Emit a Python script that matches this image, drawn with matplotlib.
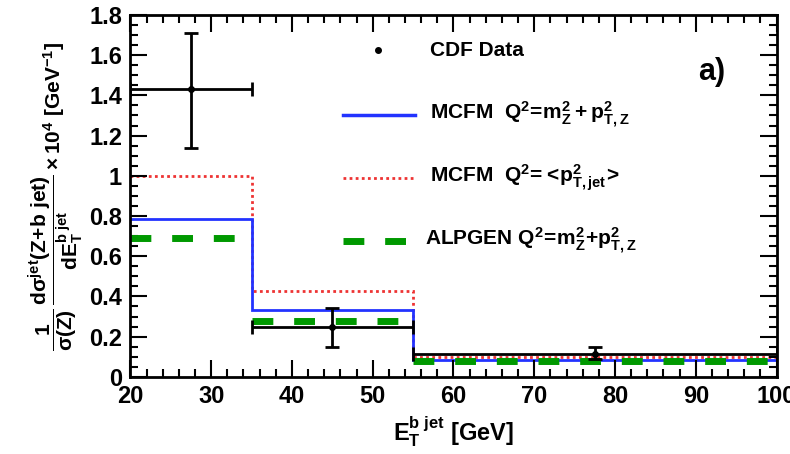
import matplotlib
matplotlib.use("Agg")
import matplotlib.pyplot as plt
import numpy as np
from matplotlib.ticker import MultipleLocator

# bin edges in E_T^{b jet} [GeV]
bin_edges = [20, 35, 55, 100]

# CDF data
data_x = [27.5, 45, 77.5]
data_y = [1.43, 0.25, 0.115]
data_err_up = [0.28, 0.09, 0.035]
data_err_down = [0.29, 0.10, 0.025]

# predictions
mcfm_mz = [0.785, 0.33, 0.085]
mcfm_pt = [1.0, 0.425, 0.10]
alpgen = [0.69, 0.28, 0.08]

plt.rcParams["font.family"] = ["Liberation Sans", "DejaVu Sans"]
plt.rcParams["font.weight"] = "bold"
plt.rcParams["axes.labelweight"] = "bold"
plt.rcParams["mathtext.fontset"] = "custom"
plt.rcParams["mathtext.rm"] = "Liberation Sans:bold"
plt.rcParams["mathtext.it"] = "Liberation Sans:bold"
plt.rcParams["mathtext.bf"] = "Liberation Sans:bold"
plt.rcParams["mathtext.sf"] = "Liberation Sans:bold"

fig = plt.figure(figsize=(7.9, 4.54), dpi=100)
ax = fig.add_axes([0.165, 0.170, 0.818, 0.797])

edges = np.array(bin_edges)
xerr_lo = np.array(data_x) - edges[:-1]
xerr_hi = edges[1:] - np.array(data_x)

ax.stairs(mcfm_pt, edges, color="#ee3333", lw=2, ls=(0, (1, 1.2)), baseline=None)
ax.stairs(mcfm_mz, edges, color="#2233ff", lw=2, baseline=None)
ax.hlines(alpgen, edges[:-1], edges[1:], color="#009900", lw=5, linestyles=(0, (3, 3)))
ax.errorbar(data_x, data_y, xerr=[xerr_lo, xerr_hi], yerr=[data_err_down, data_err_up],
            fmt="o", color="black", ms=4, lw=2, capsize=5, capthick=2)

ax.set_xlim(20, 100)
ax.set_ylim(0, 1.8)
ax.xaxis.set_major_locator(MultipleLocator(10))
ax.xaxis.set_minor_locator(MultipleLocator(2))
ax.yaxis.set_major_locator(MultipleLocator(0.2))
ax.yaxis.set_minor_locator(MultipleLocator(0.05))
ax.tick_params(which="both", direction="in", top=True, right=True, width=1.5)
ax.tick_params(which="major", length=12, labelsize=17, pad=6)
ax.tick_params(which="minor", length=6)
ax.set_yticks(np.arange(0, 1.81, 0.2))
ax.set_yticklabels(["0", "0.2", "0.4", "0.6", "0.8", "1", "1.2", "1.4", "1.6", "1.8"])
for s in ax.spines.values():
    s.set_linewidth(2)

ax.set_xlabel(r"$\mathregular{E_T^{b\ jet}}$ [GeV]", fontsize=17, labelpad=4)
ax.set_ylabel(r"$\mathregular{\dfrac{1}{\sigma(Z)}\,\dfrac{d\sigma^{jet}(Z\!+\!b\ jet)}{dE_T^{b\ jet}}\times 10^4\ [GeV^{-1}]}$",
              fontsize=15, labelpad=2)

# hand-placed legend
tr = ax.transAxes
ax.plot([0.383], [0.903], "o", color="black", ms=4, transform=tr)
ax.text(0.464, 0.903, "CDF Data", transform=tr, fontsize=15, va="center")
ax.plot([0.329, 0.440], [0.724, 0.724], color="#2233ff", lw=2.5, transform=tr)
ax.text(0.464, 0.724, r"MCFM  $\mathregular{Q^2\!=\!m_Z^2+p_{T,Z}^2}$", transform=tr, fontsize=15, va="center")
ax.plot([0.329, 0.440], [0.55, 0.55], color="#ee3333", lw=2, ls=(0, (1, 1.2)), transform=tr)
ax.text(0.464, 0.55, r"MCFM  $\mathregular{Q^2\!=\!<\!p_{T,jet}^2\!>}$", transform=tr, fontsize=15, va="center")
ax.plot([0.329, 0.440], [0.376, 0.376], color="#009900", lw=5, ls=(0, (3, 3)), transform=tr)
ax.text(0.456, 0.376, r"ALPGEN $\mathregular{Q^2\!=\!m_Z^2\!+\!p_{T,Z}^2}$", transform=tr, fontsize=15, va="center")
ax.text(0.9, 0.843, "a)", transform=tr, fontsize=22, ha="center", va="center")

fig.savefig("out.png", dpi=100)
